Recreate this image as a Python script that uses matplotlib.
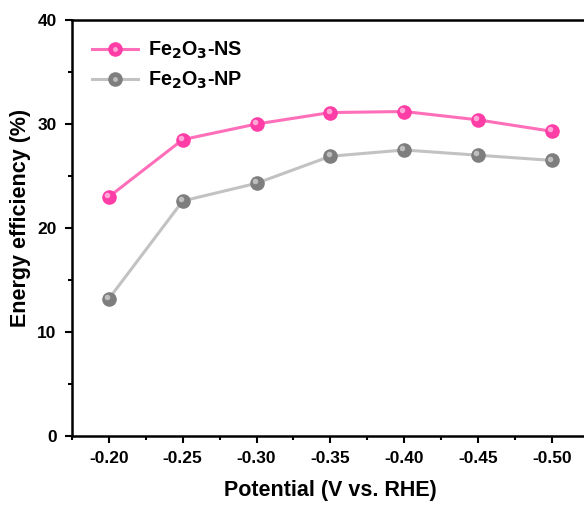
import numpy as np
import matplotlib
matplotlib.use("Agg")
import matplotlib.pyplot as plt
from matplotlib.ticker import MultipleLocator, FormatStrFormatter
from matplotlib.transforms import offset_copy
from matplotlib.legend_handler import HandlerTuple

plt.rcParams['font.family'] = ['Liberation Sans', 'DejaVu Sans']
plt.rcParams['font.weight'] = 'bold'
plt.rcParams['mathtext.default'] = 'bf'

# datos
potential = [-0.20, -0.25, -0.30, -0.35, -0.40, -0.45, -0.50]
ee_ns = [23.0, 28.5, 30.0, 31.1, 31.2, 30.4, 29.3]
ee_np = [13.2, 22.6, 24.3, 26.9, 27.5, 27.0, 26.5]
labels = [r'Fe$_2$O$_3$-NS', r'Fe$_2$O$_3$-NP']

fig = plt.figure(figsize=(5.84, 5.07), dpi=100)
ax = fig.add_axes([72/584, 71/507, 517/584, 416/507])

series = [
    (ee_ns, '#FF6EB9', '#FF3DA6', '#FFC4E4'),
    (ee_np, '#C2C2C2', '#7E7E7E', '#CFCFCF'),
]
handles = []
for (vals, lc, mc, hc), lab in zip(series, labels):
    ln, = ax.plot(potential, vals, '-o', color=lc, lw=2.2, ms=10.5,
                  mfc=mc, mec=mc, mew=0, label=lab)
    # brillo de la esfera
    tr = offset_copy(ax.transData, fig=fig, x=-1.3, y=1.3, units='points')
    ax.plot(potential, vals, 'o', ms=4, mfc=hc, mec='none', alpha=0.8,
            transform=tr)
    hl, = ax.plot([], [], 'o', ms=3.5, mfc=hc, mec='none', alpha=0.8)
    handles.append((ln, hl))

ax.set_xlim(-0.175, -0.5252)
ax.set_ylim(0, 40)
ax.xaxis.set_major_locator(MultipleLocator(0.05))
ax.xaxis.set_minor_locator(MultipleLocator(0.025))
ax.xaxis.set_major_formatter(FormatStrFormatter('%.2f'))
ax.yaxis.set_major_locator(MultipleLocator(10))
ax.yaxis.set_minor_locator(MultipleLocator(5))

ax.tick_params(which='both', direction='out', width=1.5, labelsize=12.5,
               top=False, right=False)
ax.tick_params(which='major', length=5, pad=6)
ax.tick_params(which='minor', length=3)
for sp in ax.spines.values():
    sp.set_linewidth(1.8)

ax.set_xlabel('Potential (V vs. RHE)', fontsize=15.5, fontweight='bold', labelpad=10)
ax.set_ylabel('Energy efficiency (%)', fontsize=15.5, fontweight='bold')
ax.yaxis.set_label_coords(-0.08, 0.525)

ax.legend(handles, labels, handler_map={tuple: HandlerTuple(ndivide=1)},
          loc='upper left', frameon=False, fontsize=14.2, handlelength=2.3,
          borderaxespad=0.5, labelspacing=0.45, handletextpad=0.5,
          bbox_to_anchor=(0.005, 0.995))

fig.savefig('out.png', dpi=100)
